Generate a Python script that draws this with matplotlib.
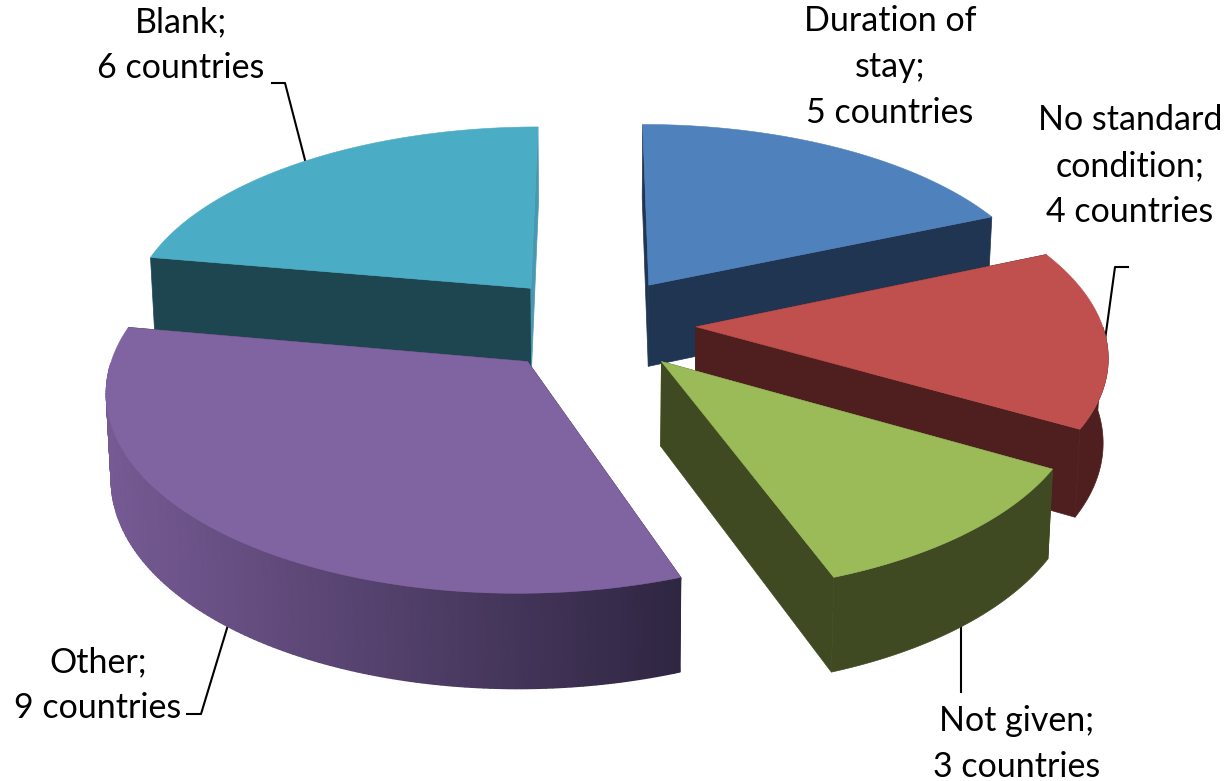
import numpy as np
import matplotlib
matplotlib.use("Agg")
import matplotlib.pyplot as plt
from matplotlib.colors import LinearSegmentedColormap

categories = ["Duration of\nstay", "No standard\ncondition", "Not given", "Other", "Blank"]
counts = [5, 4, 3, 9, 6]
top_colors = ["#4f81bd", "#c0504d", "#9bbb59", "#8064a2", "#4bacc6"]
wall_colors = ["#203552", "#4f1f1f", "#404a22", None, "#1e4650"]
cut_start_colors = ["#203552", "#4f1f1f", "#404a22", "#2f2642", "#1e4650"]
cut_end_colors = ["#203552", "#4f1f1f", "#404a22", "#2f2642", "#4a98af"]
draw_order = [4, 0, 1, 3, 2]

CX, CY, RX, RY, K, H, BOT = 594.5, 324, 406, 191, 0.13, 83, 0.99
EXPLODE = 0.25
purple_cmap = LinearSegmentedColormap.from_list("wall", ["#765a94", "#2f2642"])


def project(u, v, bottom=False):
    s = 1 / (1 - K * v)
    m = BOT if bottom else 1.0
    x = CX + RX * u * s * m
    y = CY + RY * v * s * m + (H * s if bottom else 0)
    return x, y


fig = plt.figure(figsize=(12.3, 7.81), dpi=100)
ax = fig.add_axes([0, 0, 1, 1])
ax.set_xlim(0, 1230)
ax.set_ylim(781, 0)
ax.axis("off")

total = sum(counts)
edges = np.concatenate([[0], np.cumsum(counts)]) / total * 2 * np.pi

for rank, i in enumerate(draw_order):
    a0, a1 = edges[i], edges[i + 1]
    mid = (a0 + a1) / 2
    ou, ov = EXPLODE * np.sin(mid), -EXPLODE * np.cos(mid)
    th = np.linspace(a0, a1, 160)
    u = ou + np.sin(th)
    v = ov - np.cos(th)
    tx, ty = project(u, v)
    bx, by = project(u, v, True)
    ax0, ay0 = project(ou, ov)
    bx0, by0 = project(ou, ov, True)
    z = 2 + rank * 3
    ax.fill([ax0, tx[0], bx[0], bx0], [ay0, ty[0], by[0], by0],
            color=cut_start_colors[i], lw=0.5, zorder=z)
    ax.fill([ax0, tx[-1], bx[-1], bx0], [ay0, ty[-1], by[-1], by0],
            color=cut_end_colors[i], lw=0.5, zorder=z)
    # only the part of the rim that faces the viewer is drawn
    front = np.cos(th) <= 0
    if front.sum() > 1:
        fx, fy, gx, gy = tx[front], ty[front], bx[front], by[front]
        if wall_colors[i] is None:
            ax.pcolormesh(np.vstack([fx, gx]), np.vstack([fy, gy]), np.vstack([fx, fx]),
                          shading="gouraud", cmap=purple_cmap, vmin=105, vmax=682,
                          zorder=z + 1)
        else:
            ax.fill(np.r_[fx, gx[::-1]], np.r_[fy, gy[::-1]], color=wall_colors[i],
                    lw=0.5, zorder=z + 1)
    ax.fill(np.r_[ax0, tx], np.r_[ay0, ty], color=top_colors[i], lw=0.4, zorder=z + 2)

leaders = [([272, 285, 305], [83, 83, 160]),
           ([1128, 1115, 1105], [267, 267, 340]),
           ([961, 961], [625, 692]),
           ([187, 201, 228], [714, 714, 625])]
for lx, ly in leaders:
    ax.plot(lx, ly, color="black", lw=1.5, zorder=1)

labels = [(890, 67, f"{categories[0]};\n{counts[0]} countries"),
          (1130, 166, f"{categories[1]};\n{counts[1]} countries"),
          (1017, 744, f"{categories[2]};\n{counts[2]} countries"),
          (98, 685, f"{categories[3]};\n{counts[3]} countries"),
          (181, 45, f"{categories[4]};\n{counts[4]} countries")]
for x, y, s in labels:
    ax.text(x, y, s, ha="center", va="center", fontsize=24.5, family="Lato",
            linespacing=1.53, color="black", zorder=30)

fig.savefig("out.png", dpi=100, facecolor="white")
